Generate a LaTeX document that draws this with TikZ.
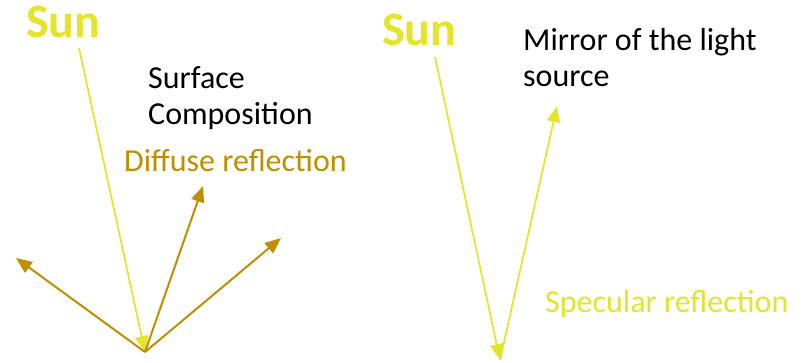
\documentclass[tikz,border=0pt]{standalone}
\usepackage{fontspec}
\setmainfont{Carlito}
\usetikzlibrary{arrows.meta}
\definecolor{sunyellow}{RGB}{228,228,42}
\definecolor{diffbrown}{RGB}{191,143,0}
\tikzset{
  lbl/.style={anchor=base west, inner sep=0pt, font=\fontsize{32}{36}\selectfont, align=left},
  sunlbl/.style={anchor=base west, inner sep=0pt, font=\fontsize{48}{52}\selectfont\bfseries, text=sunyellow},
  yray/.style={draw=sunyellow, line width=1.7pt, -{Triangle[length=16pt,width=13pt]}},
  bray/.style={draw=diffbrown, line width=2pt, -{Triangle[length=16pt,width=13pt]}}
}
\begin{document}
\begin{tikzpicture}[x=1pt,y=-1pt]
\useasboundingbox (0,0) rectangle (805,362);
% left diagram
\node[sunlbl] (sunL) at (26,37) {Sun};
\node[lbl] (surf) at (148,124) {Surface\\Composition};
\node[lbl, text=diffbrown] (diff) at (124,171) {Diffuse reflection};
\coordinate (sL) at (79,48);
\coordinate (pL) at (145,352);
\coordinate (d1) at (16,258);
\coordinate (d2) at (203,186);
\coordinate (d3) at (281,238);
\draw[yray] (sL) -- (pL);
\draw[bray] (pL) -- (d1);
\draw[bray] (pL) -- (d2);
\draw[bray] (pL) -- (d3);
% right diagram
\node[sunlbl] (sunR) at (382,45) {Sun};
\node[lbl] (mirror) at (523,86) {Mirror of the light\\source};
\node[lbl, text=sunyellow] (spec) at (545,312) {Specular reflection};
\coordinate (sR) at (435,57);
\coordinate (pR) at (500,360);
\coordinate (m1) at (557,106);
\draw[yray] (sR) -- (pR);
\draw[yray] (pR) -- (m1);
\end{tikzpicture}
\end{document}
